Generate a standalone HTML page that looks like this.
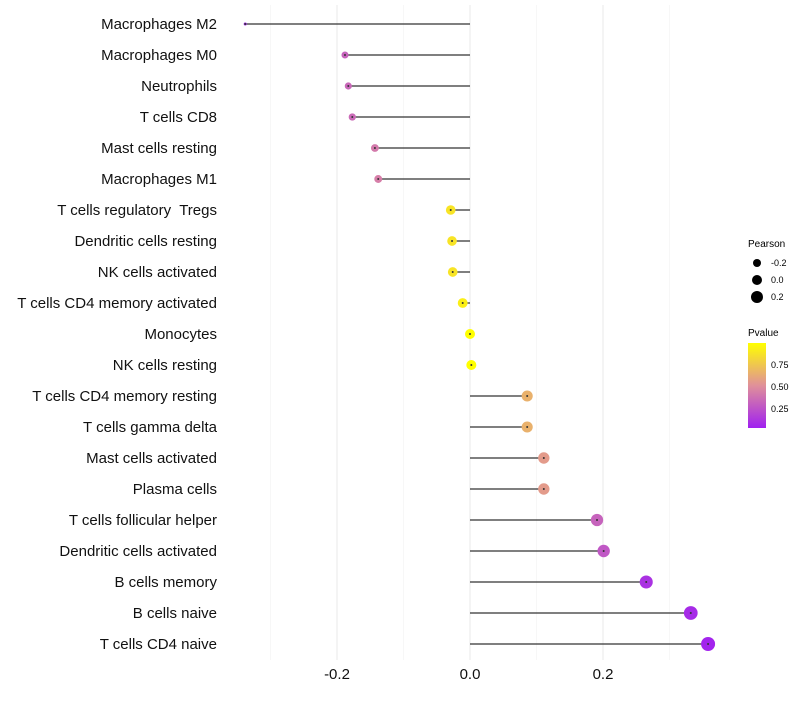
<!DOCTYPE html>
<html><head><meta charset="utf-8"><style>
body{margin:0;background:#fff;font-family:"Liberation Sans",sans-serif}
text{white-space:pre}
</style></head><body>
<svg id="chart" width="800" height="700" xmlns="http://www.w3.org/2000/svg">
<defs><linearGradient id="pg" x1="0" y1="1" x2="0" y2="0">
<stop offset="0" stop-color="#A020F0"/><stop offset="0.5" stop-color="#E0909A"/><stop offset="1" stop-color="#FFFF00"/></linearGradient></defs>
<g id="grid"></g><g id="marks"></g><g id="labels"></g>
<g font-size="9" fill="#000">
<text x="748" y="247" font-size="10">Pearson</text>
<circle cx="757" cy="263" r="4"/><text x="771" y="266">-0.2</text>
<circle cx="757" cy="280" r="5"/><text x="771" y="283">0.0</text>
<circle cx="757" cy="297" r="6"/><text x="771" y="300">0.2</text>
</g>
<g font-size="9" fill="#000">
<text x="748" y="336" font-size="10">Pvalue</text>
<rect x="748" y="343" width="18" height="85" fill="url(#pg)"/>
<text x="771" y="368">0.75</text><text x="771" y="390">0.50</text><text x="771" y="412">0.25</text>
</g>
</svg>
<script>
const categories=["Macrophages M2","Macrophages M0","Neutrophils","T cells CD8","Mast cells resting","Macrophages M1","T cells regulatory  Tregs","Dendritic cells resting","NK cells activated","T cells CD4 memory activated","Monocytes","NK cells resting","T cells CD4 memory resting","T cells gamma delta","Mast cells activated","Plasma cells","T cells follicular helper","Dendritic cells activated","B cells memory","B cells naive","T cells CD4 naive"];
const pearson=[-0.338,-0.188,-0.183,-0.177,-0.143,-0.138,-0.029,-0.027,-0.026,-0.011,0.0,0.002,0.086,0.086,0.111,0.111,0.191,0.201,0.265,0.332,0.358];
const pvalue=[0.01,0.3,0.32,0.33,0.4,0.42,0.88,0.88,0.88,0.93,1.0,1.0,0.65,0.65,0.55,0.55,0.3,0.25,0.08,0.05,0.02];
const xTicks=[-0.2,0.0,0.2];
const xTickLabels=["-0.2","0.0","0.2"];
const NS="http://www.w3.org/2000/svg";
const x=v=>470+v*665, y=i=>24+i*31;
function mk(t,a,p){const e=document.createElementNS(NS,t);for(const k in a)e.setAttribute(k,a[k]);p.appendChild(e);return e;}
function col(p){const s=[[160,32,240],[224,144,154],[255,255,0]];let t=Math.max(0,Math.min(1,p));let a,b,f;if(t<0.5){a=s[0];b=s[1];f=t/0.5}else{a=s[1];b=s[2];f=(t-0.5)/0.5}return`rgb(${a.map((c,i)=>Math.round(c+(b[i]-c)*f)).join(",")})`;}
const g=document.getElementById('grid'),m=document.getElementById('marks'),l=document.getElementById('labels');
[-0.3,-0.1,0.1,0.3].forEach(v=>{const e=mk('line',{x1:x(v),x2:x(v),y1:5,y2:660,stroke:'#f2f2f2','stroke-width':0.6},g);

});
xTicks.forEach((v,i)=>{const e=mk('line',{x1:x(v),x2:x(v),y1:5,y2:660,stroke:'#ebebeb','stroke-width':1.1},g);


const t=mk('text',{x:x(v),y:679,'text-anchor':'middle','font-size':15,fill:'#111'},l);t.textContent=xTickLabels[i];

});
categories.forEach((c,i)=>{const t=mk('text',{x:217,y:y(i)+5,'text-anchor':'end','font-size':15,fill:'#111'},l);t.textContent=c;


const s=mk('line',{x1:x(0),x2:x(pearson[i]),y1:y(i),y2:y(i),stroke:'#333','stroke-width':1.2},m);


const r=Math.sqrt(Math.max(0.5,25+67*pearson[i]));
const d=mk('circle',{cx:x(pearson[i]),cy:y(i),r:r,fill:col(pvalue[i])},m);


const c2=mk('circle',{cx:x(pearson[i]),cy:y(i),r:1,fill:'#333'},m);

});
</script>
</body></html>
